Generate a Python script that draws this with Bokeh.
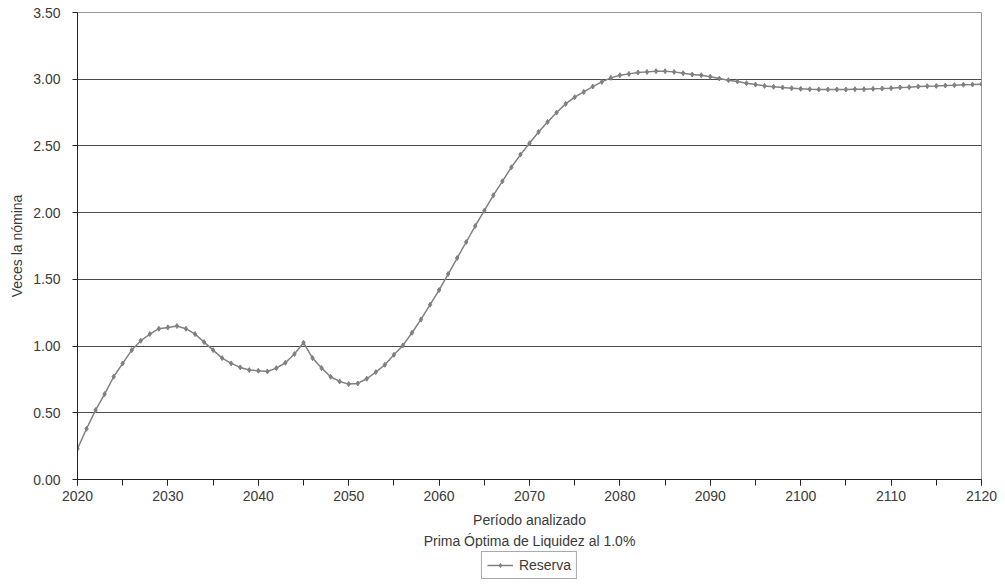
from bokeh.plotting import figure
from bokeh.layouts import column
from bokeh.models import (FixedTicker, NumeralTickFormatter, Legend, LegendItem,
                          Title, Range1d, ColumnDataSource)
from bokeh.embed import file_html
from bokeh.resources import INLINE

years = list(range(2020, 2121))
reserva = [
    0.23, 0.38, 0.52, 0.64, 0.77, 0.87, 0.97, 1.04, 1.09, 1.13,
    1.14, 1.15, 1.13, 1.09, 1.03, 0.97, 0.91, 0.87, 0.84, 0.82,
    0.815, 0.81, 0.835, 0.875, 0.94, 1.025, 0.91, 0.835, 0.77, 0.735,
    0.715, 0.72, 0.755, 0.805, 0.86, 0.935, 1.005, 1.10, 1.20, 1.31,
    1.42, 1.54, 1.66, 1.78, 1.90, 2.015, 2.13, 2.235, 2.34, 2.435,
    2.52, 2.605, 2.68, 2.75, 2.815, 2.865, 2.905, 2.945, 2.98, 3.01,
    3.03, 3.04, 3.05, 3.055, 3.06, 3.06, 3.055, 3.045, 3.035, 3.03,
    3.018, 3.005, 2.993, 2.983, 2.97, 2.96, 2.95, 2.943, 2.938, 2.933,
    2.928, 2.925, 2.923, 2.923, 2.923, 2.923, 2.925, 2.925, 2.928, 2.93,
    2.933, 2.938, 2.94, 2.945, 2.948, 2.95, 2.953, 2.955, 2.958, 2.96,
    2.963,
]
x_label_ticks = list(range(2020, 2121, 10))
x_minor_ticks = list(range(2020, 2121, 5))
y_ticks = [0.0, 0.5, 1.0, 1.5, 2.0, 2.5, 3.0, 3.5]
grid_ticks = [0.5, 1.0, 1.5, 2.0, 2.5, 3.0]
x_title = "Período analizado"
sub_title = "Prima Óptima de Liquidez al 1.0%"
y_title = "Veces la nómina"
series_name = "Reserva"

FONT = "Liberation Sans"
TXT = "#3a3a3a"
SER = "#808080"
W = 1002

p = figure(width=W, height=548, output_backend="svg", toolbar_location=None,
           x_range=Range1d(2020, 2120), y_range=Range1d(0, 3.5),
           min_border_left=77, min_border_right=14, min_border_top=12,
           min_border_bottom=0)
p.background_fill_color = "white"
p.border_fill_color = "white"
p.outline_line_color = "#999999"
p.outline_line_width = 1

src = ColumnDataSource(dict(x=years, y=reserva))
p.line("x", "y", source=src, line_color=SER, line_width=1.5)
p.scatter("x", "y", source=src, marker="diamond", size=5,
          fill_color=SER, line_color=SER)

xa = p.xaxis[0]
xa.ticker = FixedTicker(ticks=x_label_ticks, minor_ticks=x_minor_ticks)
xa.axis_line_color = "#222222"
xa.major_tick_line_color = "#222222"
xa.minor_tick_line_color = "#222222"
xa.major_tick_in = 0
xa.major_tick_out = 6
xa.minor_tick_in = 0
xa.minor_tick_out = 6
xa.major_label_standoff = 5
xa.major_label_text_font = FONT
xa.major_label_text_font_size = "14px"
xa.major_label_text_color = TXT
xa.axis_label = x_title
xa.axis_label_text_font = FONT
xa.axis_label_text_font_size = "14px"
xa.axis_label_text_font_style = "normal"
xa.axis_label_text_color = TXT
xa.axis_label_standoff = 8

ya = p.yaxis[0]
ya.ticker = FixedTicker(ticks=y_ticks)
ya.formatter = NumeralTickFormatter(format="0.00")
ya.axis_line_color = "#222222"
ya.major_tick_line_color = "#222222"
ya.minor_tick_line_color = None
ya.major_tick_in = 0
ya.major_tick_out = 5
ya.major_label_standoff = 12
ya.major_label_text_font = FONT
ya.major_label_text_font_size = "14px"
ya.major_label_text_color = TXT
ya.axis_label = y_title
ya.axis_label_text_font = FONT
ya.axis_label_text_font_size = "14px"
ya.axis_label_text_font_style = "normal"
ya.axis_label_text_color = TXT
ya.axis_label_standoff = 5

p.xgrid.visible = False
p.ygrid.ticker = FixedTicker(ticks=grid_ticks)
p.ygrid.grid_line_color = "#4a4a4a"
p.ygrid.grid_line_width = 1

sub = Title(text=sub_title, align="center", text_font=FONT,
            text_font_size="14px", text_font_style="normal",
            text_color=TXT, standoff=0, offset=0)
p.add_layout(sub, "below")

# legend strip (series drawn outside its visible range, only the legend shows)
q = figure(width=W, height=33, output_backend="svg", toolbar_location=None,
           x_range=Range1d(0, 1), y_range=Range1d(0, 1),
           min_border_left=73, min_border_right=21, min_border_top=0,
           min_border_bottom=0)
q.axis.visible = False
q.grid.visible = False
q.outline_line_color = None
q.background_fill_color = "white"
q.border_fill_color = "white"
ql = q.line("x", "y", source=src, line_color=SER, line_width=1.5)
qs = q.scatter("x", "y", source=src, marker="diamond", size=5,
               fill_color=SER, line_color=SER)
legend = Legend(items=[LegendItem(label=series_name, renderers=[ql, qs])],
                location="center", orientation="horizontal",
                border_line_color="#555555", border_line_width=1,
                padding=5, margin=0, glyph_width=26, glyph_height=10,
                label_height=10, label_standoff=6,
                label_text_font=FONT, label_text_font_size="14px",
                label_text_color=TXT, background_fill_alpha=1)
q.add_layout(legend, "center")

layout = column(p, q, spacing=0)
open("out.html", "w").write(file_html(layout, INLINE))
